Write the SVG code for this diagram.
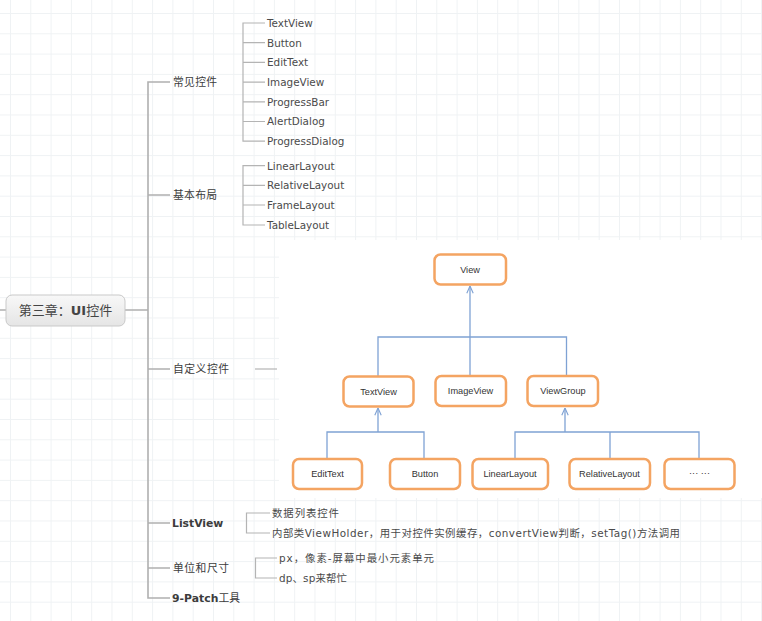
<svg xmlns="http://www.w3.org/2000/svg" width="762" height="621" viewBox="0 0 762 621">
<style>
.t{font-family:"DejaVu Sans","Noto Sans CJK SC",sans-serif;font-size:10.4px;fill:#4a4a4a}
.l2{font-family:"DejaVu Sans","Noto Sans CJK SC",sans-serif;font-size:10.8px;fill:#3c3c3c}
.b{font-weight:bold}
.mm{fill:none;stroke:#b4b4b4;stroke-width:1.2}
.trunk{fill:none;stroke:#b0b0b0;stroke-width:1.6}
.box{fill:#ffffff;stroke:#f4a462;stroke-width:2.5}
.bt{font-family:"Liberation Sans",Arial,sans-serif;font-size:9.2px;fill:#333333;text-anchor:middle}
.cn{fill:none;stroke:#7fa2d4;stroke-width:1.3}
</style>
<defs>
<pattern id="grid" x="10" y="13" width="20.3" height="20.3" patternUnits="userSpaceOnUse">
<path d="M0 0.5H20.3M0.5 0V20.3" fill="none" stroke="#eff2f4" stroke-width="1"/>
</pattern>
<linearGradient id="cg" x1="0" y1="0" x2="0" y2="1">
<stop offset="0" stop-color="#f8f8f8"/>
<stop offset="1" stop-color="#e5e5e5"/>
</linearGradient>
<marker id="arr" viewBox="0 0 10 10" refX="10" refY="5" markerWidth="8" markerHeight="8" markerUnits="userSpaceOnUse" orient="auto">
<path d="M1 1L10 5L1 9" fill="none" stroke="#7fa2d4" stroke-width="1.4"/>
</marker>
</defs>
<rect width="762" height="621" fill="#ffffff"/>
<rect width="762" height="621" fill="url(#grid)"/>
<rect x="279" y="240" width="483" height="258" fill="#ffffff"/>

<g id="mindmap-connectors">
<path class="trunk" d="M0 310H6M125 310H148"/>
<path class="trunk" d="M170 82H148V598H170"/>
<path class="trunk" d="M148 195H170M148 369H170M148 523H170M148 568H170"/>
<path class="mm" d="M255 369H277"/>
<path class="mm" d="M265 23H243V141.2H265M243 42.7H265M243 62.4H265M243 82.1H265M243 101.8H265M243 121.5H265"/>
<path class="mm" d="M265 165.7H243V225H265M243 185.3H265M243 205H265"/>
<path class="mm" d="M270 513H246.5V533H270"/>
<path class="mm" d="M277 558H255.5V578H277"/>
</g>

<g id="root">
<rect x="6" y="295" width="119" height="31" rx="6" fill="url(#cg)" stroke="#c9c9c9" stroke-width="1"/>
<text x="65.5" y="315" text-anchor="middle" style="font-family:'DejaVu Sans','Noto Sans CJK SC',sans-serif;font-size:13px;fill:#444">第三章：<tspan font-weight="bold">UI</tspan>控件</text>
</g>

<g id="n-changjian"><text class="l2" x="173" y="86" textLength="44">常见控件</text></g>
<g id="n-jiben"><text class="l2" x="173" y="199" textLength="44">基本布局</text></g>
<g id="n-zidingyi"><text class="l2" x="173" y="373" textLength="56">自定义控件</text></g>
<g id="n-listview"><text class="l2 b" x="172" y="527">ListView</text></g>
<g id="n-danwei"><text class="l2" x="173" y="572" textLength="56">单位和尺寸</text></g>
<g id="n-9patch"><text class="l2" x="172" y="602" textLength="68"><tspan font-weight="bold">9-Patch</tspan>工具</text></g>

<g id="n-common-items">
<text class="t" x="267" y="26.8">TextView</text>
<text class="t" x="267" y="46.5">Button</text>
<text class="t" x="267" y="66.2">EditText</text>
<text class="t" x="267" y="85.9">ImageView</text>
<text class="t" x="267" y="105.6">ProgressBar</text>
<text class="t" x="267" y="125.3">AlertDialog</text>
<text class="t" x="267" y="145">ProgressDialog</text>
</g>
<g id="n-layout-items">
<text class="t" x="267" y="169.5">LinearLayout</text>
<text class="t" x="267" y="189.1">RelativeLayout</text>
<text class="t" x="267" y="208.8">FrameLayout</text>
<text class="t" x="267" y="228.8">TableLayout</text>
</g>
<g id="n-listview-items">
<text class="t" x="272" y="517" textLength="67">数据列表控件</text>
<text class="t" x="272" y="537" textLength="408">内部类ViewHolder，用于对控件实例缓存，convertView判断，setTag()方法调用</text>
</g>
<g id="n-danwei-items">
<text class="t" x="279" y="562" textLength="155">px，像素-屏幕中最小元素单元</text>
<text class="t" x="279" y="582" textLength="68">dp、sp来帮忙</text>
</g>

<g id="hierarchy-connectors">
<path class="cn" d="M470 337V286" marker-end="url(#arr)"/>
<path class="cn" d="M378 376V337H566.5V376M470 337V376"/>
<path class="cn" d="M378 432V408" marker-end="url(#arr)"/>
<path class="cn" d="M327 459V432H424V459"/>
<path class="cn" d="M565 432V408" marker-end="url(#arr)"/>
<path class="cn" d="M515 459V432H699V459M610 432V459"/>
</g>

<g id="b-view"><rect class="box" x="434.5" y="254.5" width="71.5" height="30" rx="6"/><text class="bt" x="470" y="272.5">View</text></g>
<g id="b-textview"><rect class="box" x="343.5" y="376.5" width="70" height="30" rx="6"/><text class="bt" x="378.5" y="394.5">TextView</text></g>
<g id="b-imageview"><rect class="box" x="435.5" y="376" width="70.5" height="30" rx="6"/><text class="bt" x="470.5" y="394">ImageView</text></g>
<g id="b-viewgroup"><rect class="box" x="527.5" y="376" width="70.5" height="30" rx="6"/><text class="bt" x="563" y="394">ViewGroup</text></g>
<g id="b-edittext"><rect class="box" x="293" y="459" width="69" height="30" rx="6"/><text class="bt" x="327.5" y="477">EditText</text></g>
<g id="b-button"><rect class="box" x="390" y="459" width="70" height="30" rx="6"/><text class="bt" x="425" y="477">Button</text></g>
<g id="b-linearlayout"><rect class="box" x="472.5" y="459" width="75.5" height="30" rx="6"/><text class="bt" x="510" y="477">LinearLayout</text></g>
<g id="b-relativelayout"><rect class="box" x="569.5" y="459" width="80.5" height="30" rx="6"/><text class="bt" x="609.5" y="477">RelativeLayout</text></g>
<g id="b-more"><rect class="box" x="664.5" y="459" width="70" height="30" rx="6"/><text class="bt" x="699.5" y="476">··· ···</text></g>
</svg>
